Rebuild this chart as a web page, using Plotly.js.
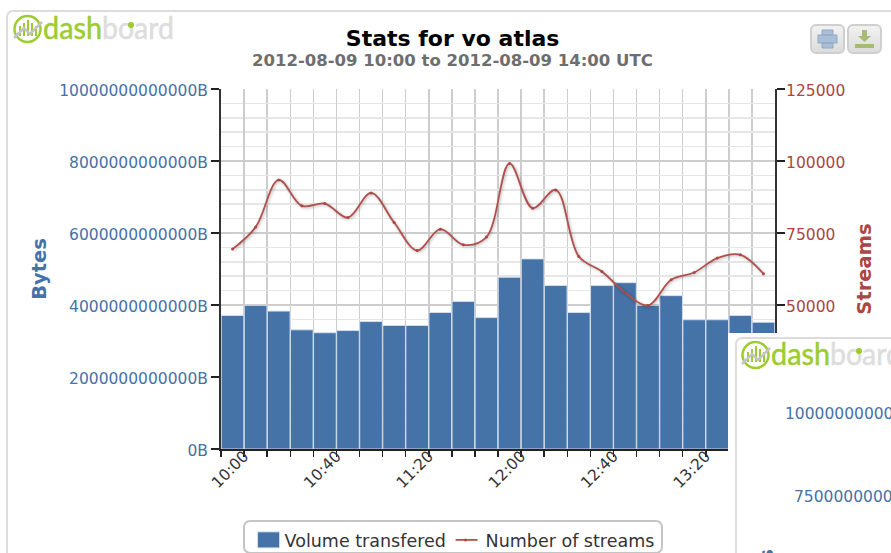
<!DOCTYPE html>
<html>
<head>
<meta charset="utf-8">
<script src="https://cdn.plot.ly/plotly-3.0.1.min.js"></script>
<style>
html,body{margin:0;padding:0;background:#fff;width:891px;height:553px;overflow:hidden;font-family:"DejaVu Sans",sans-serif;}
#card{position:absolute;left:6px;top:10px;width:1000px;height:700px;border:2px solid #dcdcdc;border-radius:7px;box-sizing:border-box;z-index:0;}
#chart{position:absolute;left:0;top:0;width:891px;height:553px;z-index:2;}
#legendbox{position:absolute;left:243px;top:520px;width:420px;height:34px;box-sizing:border-box;border:2px solid #c4c4c4;border-radius:7px;background:#fff;z-index:1;}
.logo{position:absolute;z-index:3;overflow:visible;}
#panel{position:absolute;left:728px;top:333px;width:163px;height:220px;background:#fff;z-index:4;overflow:hidden;}
#panelcard{position:absolute;left:7px;top:4px;width:300px;height:400px;border:2px solid #dcdcdc;border-radius:7px;box-sizing:border-box;}
.ptick{position:absolute;color:#4572A7;font-size:15.500px;white-space:nowrap;line-height:18px;}
.btn{position:absolute;top:24px;width:35px;height:30px;box-sizing:border-box;border:2px solid #cfcfcf;border-radius:6px;background:linear-gradient(#f2f2f2,#dcdcdc);z-index:3;}
.legend .scrollbox{clip-path:none !important;}
.legend .legendpoints path:not(.scatterpts){d:path("M15,8H-7V-8H15Z");}
.legend .legendlines path, .legend .legendfill path{d:path("M10,0h22");}
.legend .scatterpts, .legend .legendsymbols path{d:path("M1.500,0A1.500,1.500 0 1,1 0,-1.500A1.500,1.500 0 0,1 1.500,0Z");}
</style>
</head>
<body>
<div id="card"></div>
<div id="legendbox"></div>
<div id="chart"></div>

<svg class="logo" style="left:12px;top:14px" width="165" height="32" viewBox="0 0 165 32">
  <circle cx="15.500" cy="15" r="13" fill="none" stroke="#9ccc2e" stroke-width="2.500"/>
  <path d="M8 12v10M12 9v13M16 6v16M20 9v13M24 12v10" stroke="#9ccc2e" stroke-width="2"/>
  <path d="M2 24L12 14L18 20L30 8" fill="none" stroke="#c4c4c4" stroke-width="2.500"/>
  <text x="31" y="25" font-family="Lato, sans-serif" font-size="31" fill="#9ccc2e" stroke="#9ccc2e" stroke-width="0.500" textLength="59" lengthAdjust="spacingAndGlyphs">dash</text>
  <text x="90" y="25" font-family="Lato, sans-serif" font-size="31" fill="#dddddd" stroke="#dddddd" stroke-width="0.500" textLength="72" lengthAdjust="spacingAndGlyphs">board</text>
  <circle cx="119" cy="11" r="3" fill="#9ccc2e"/>
</svg>

<div class="btn" style="left:810px"><svg width="31" height="26" viewBox="0 0 31 26">
  <path d="M10 4h11v5h-11zM6 9h19v8h-19zM10 17h11v5h-11z" fill="#a9bfd8" stroke="#8fa9c6" stroke-width="1"/></svg></div>
<div class="btn" style="left:847px"><svg width="31" height="26" viewBox="0 0 31 26">
  <path d="M13 4h5v6h4l-6.500 6l-6.500 -6h4zM6 18h19v4h-19z" fill="#a8bb74"/></svg></div>

<div id="panel">
  <div id="panelcard"></div>
  <svg style="position:absolute;left:12px;top:7px;" width="165" height="32" viewBox="0 0 165 32">
    <circle cx="15.500" cy="15" r="13" fill="none" stroke="#9ccc2e" stroke-width="2.500"/>
    <path d="M8 12v10M12 9v13M16 6v16M20 9v13M24 12v10" stroke="#9ccc2e" stroke-width="2"/>
    <path d="M2 24L12 14L18 20L30 8" fill="none" stroke="#c4c4c4" stroke-width="2.500"/>
    <text x="31" y="25" font-family="Lato, sans-serif" font-size="31" fill="#9ccc2e" stroke="#9ccc2e" stroke-width="0.500" textLength="59" lengthAdjust="spacingAndGlyphs">dash</text>
    <text x="90" y="25" font-family="Lato, sans-serif" font-size="31" fill="#dddddd" stroke="#dddddd" stroke-width="0.500" textLength="72" lengthAdjust="spacingAndGlyphs">board</text>
    <circle cx="119" cy="11" r="3" fill="#9ccc2e"/>
  </svg>
  <div class="ptick" style="left:57px;top:72px">1000000000000</div>
  <div class="ptick" style="left:66px;top:155px">750000000000</div>
  <div style="position:absolute;left:33px;top:210px;width:12px;height:24px;line-height:24px;text-align:center;color:#4572A7;font-size:19.500px;font-weight:bold;transform:rotate(-90deg);">s</div>
</div>

<script>
const times = ["09:55","10:05","10:15","10:25","10:35","10:45","10:55","11:05","11:15","11:25","11:35","11:45",
               "11:55","12:05","12:15","12:25","12:35","12:45","12:55","13:05","13:15","13:25","13:35","13:45"];
const volumeBytes = [3.71e12,3.99e12,3.83e12,3.31e12,3.23e12,3.29e12,3.54e12,3.43e12,3.43e12,3.79e12,4.10e12,3.65e12,
                     4.77e12,5.28e12,4.54e12,3.79e12,4.54e12,4.62e12,3.99e12,4.26e12,3.59e12,3.59e12,3.71e12,3.52e12];
const streams = [69410,77040,93440,84420,85220,80370,88930,78630,68920,76340,70900,73570,
                 99160,83620,89970,66840,61640,54360,49860,58770,61300,66290,67430,60850];
const streamTicks = [50000,75000,100000,125000];
const day = "2012-08-09 ";
const xs = times.map(t => day + t);

const BLUE = "#4572A7", RED = "#AA4643";

const traces = [
  {type:"bar", name:"Volume transfered", x:xs, y:volumeBytes, yaxis:"y", width:600000*0.98,
   marker:{color:BLUE, line:{color:"rgba(215,225,238,0.9)", width:1}}},
  {type:"scatter", mode:"lines+markers", name:"Number of streams", x:xs, y:streams, yaxis:"y2",
   marker:{color:RED, size:3},
   line:{color:"#B0514E", width:1.800, shape:"spline", smoothing:1}}
];

const layout = {
  width:891, height:553, autosize:false,
  paper_bgcolor:"rgba(0,0,0,0)", plot_bgcolor:"rgba(0,0,0,0)",
  margin:{l:221, r:116, t:89, b:103.500, pad:0},
  font:{family:'"DejaVu Sans", sans-serif'},
  title:{text:"<b>Stats for vo atlas</b>", x:0.508, xanchor:"center", y:0.931, yanchor:"middle",
         font:{size:22, color:"#000000", family:'"DejaVu Sans", sans-serif'}},
  bargap:0,
  showlegend:true,
  legend:{orientation:"h", xref:"container", yref:"container", x:0.2745, xanchor:"left", y:0.0235, yanchor:"middle",
          bgcolor:"rgba(0,0,0,0)", font:{size:17.500, color:"#333333"}, itemwidth:30, entrywidth:156, entrywidthmode:"pixels", traceorder:"normal"},
  xaxis:{type:"date", range:[day+"09:50", day+"13:50"], tick0:day+"10:00", dtick:2400000,
         tickformat:"%H:%M", tickangle:-45, ticks:"outside", ticklen:6, tickcolor:"#222", tickwidth:1.5,
         ticklabelstandoff:-16,
         tickfont:{size:15.500, color:"#333333"}, showline:true, linecolor:"#222", linewidth:2,
         showgrid:true, gridcolor:"#cdcdcd", gridwidth:1.5, zeroline:false,
         minor:{dtick:600000, tick0:day+"10:00", ticks:"outside", ticklen:6, tickcolor:"#222", tickwidth:1.5, showgrid:true, gridcolor:"#cdcdcd", gridwidth:1.5}},
  yaxis:{range:[0,10e12], dtick:2e12, tick0:0, tickformat:"d", ticksuffix:"B", exponentformat:"none",
         ticks:"outside", ticklen:8, tickcolor:"#222", tickwidth:1.5, tickfont:{size:15.500, color:BLUE},
         ticklabelshift:2,
         showline:true, linecolor:"#333", linewidth:2, showgrid:true, gridcolor:"#cdcdcd", gridwidth:1.5, zeroline:false,
         title:{text:"<b>Bytes</b>", standoff:7, font:{size:19.500, color:BLUE}},
         minor:{dtick:0.4e12, showgrid:true, gridcolor:"#e6e6e6", gridwidth:1.5}},
  yaxis2:{overlaying:"y", side:"right", range:[0,125000], tickmode:"array", tickvals:streamTicks, tickformat:"d",
         ticks:"outside", ticklen:8, tickcolor:"#222", tickwidth:1.5, tickfont:{size:15.500, color:RED},
         ticklabelstandoff:-2, ticklabelshift:2,
         showline:true, linecolor:"#333", linewidth:2, showgrid:false, zeroline:false,
         title:{text:"<b>Streams</b>", standoff:13, font:{size:19.500, color:RED}}},
  annotations:[{text:"<b>2012-08-09 10:00 to 2012-08-09 14:00 UTC</b>", xref:"paper", yref:"paper",
                x:0.418, xanchor:"center", y:1.079, yanchor:"middle", showarrow:false,
                font:{size:16.500, color:"#6e6e6e"}}]
};

Plotly.newPlot("chart", traces, layout, {displayModeBar:false, staticPlot:true}).then(() => {
  document.querySelectorAll(".scatterlayer .trace .lines path").forEach(p => {
    p.style.filter = "drop-shadow(1px 1px 1.5px rgba(0,0,0,0.3))";
  });
});
</script>
</body>
</html>
